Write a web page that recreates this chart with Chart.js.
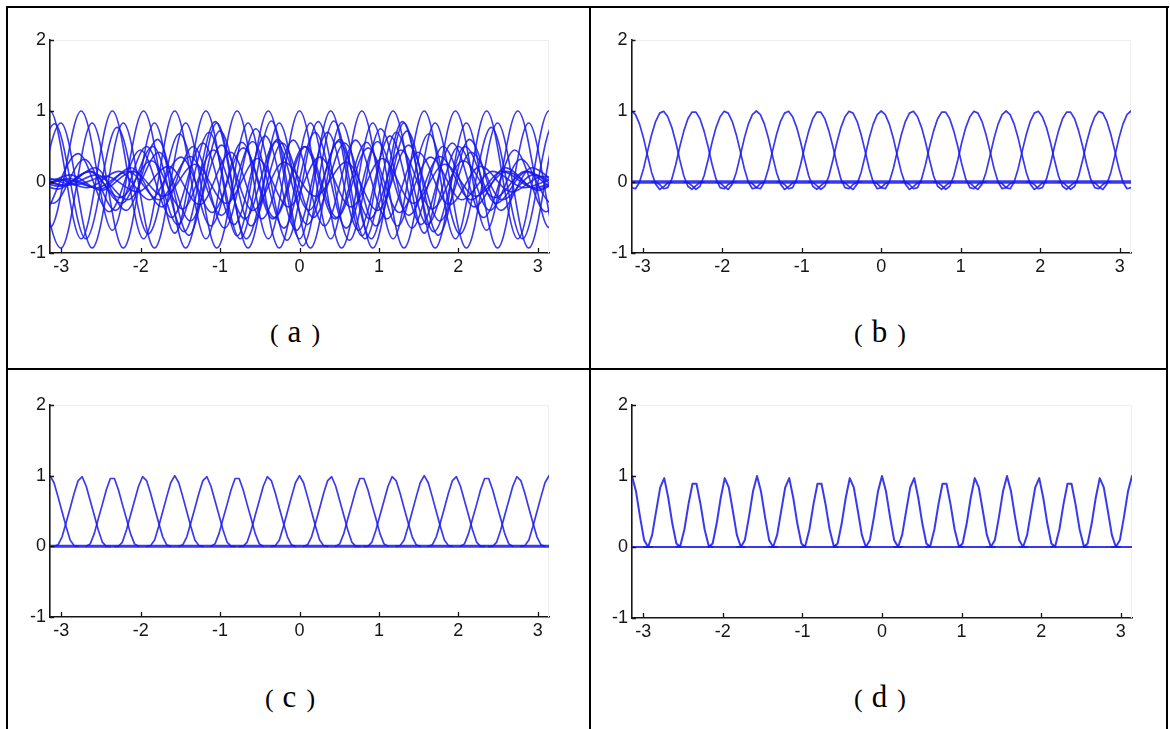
<!DOCTYPE html>
<html>
<head>
<meta charset="utf-8">
<script src="https://cdn.jsdelivr.net/npm/chart.js@4.4.1/dist/chart.umd.min.js"></script>
<style>
  html, body { margin: 0; padding: 0; background: #fff; }
  body { width: 1170px; height: 729px; position: relative; overflow: hidden; }
  .rule { position: absolute; background: #000; }
  canvas { position: absolute; }
  .cap { position: absolute; display: flex; align-items: baseline; line-height: 1;
         font-family: "Liberation Serif", "Times New Roman", serif; color: #000; white-space: nowrap;
         transform: translateX(-50%); }
  .cap .p { font-size: 26px; }
  .cap .l { font-size: 31px; margin: 0 10px 0 9px; }
</style>
</head>
<body>
  <!-- table grid -->
  <div class="rule" style="left:6px;top:6px;width:1163px;height:2px"></div>
  <div class="rule" style="left:6px;top:6px;width:2px;height:723px"></div>
  <div class="rule" style="left:1166px;top:6px;width:2px;height:723px"></div>
  <div class="rule" style="left:589px;top:6px;width:2px;height:723px"></div>
  <div class="rule" style="left:6px;top:368px;width:1162px;height:2px"></div>

  <canvas id="panelA" width="560" height="270" style="left:10px;top:20px"></canvas>
  <canvas id="panelB" width="560" height="270" style="left:592px;top:20px"></canvas>
  <canvas id="panelC" width="560" height="270" style="left:10px;top:385px"></canvas>
  <canvas id="panelD" width="560" height="270" style="left:592px;top:385px"></canvas>

  <div class="cap" style="left:295px;top:316px"><span class="p">(</span><span class="l">a</span><span class="p">)</span></div>
  <div class="cap" style="left:880px;top:316px"><span class="p">(</span><span class="l">b</span><span class="p">)</span></div>
  <div class="cap" style="left:290px;top:681px"><span class="p">(</span><span class="l">c</span><span class="p">)</span></div>
  <div class="cap" style="left:880px;top:681px"><span class="p">(</span><span class="l">d</span><span class="p">)</span></div>

<script>
// ---- axes ----
const xTickValues = [-3, -2, -1, 0, 1, 2, 3];
const yTickValues = [-1, 0, 1, 2];

// ---- sampling grid shared by panels (b)-(d) ----
const SAMPLES = 125;                 // points spread over [-pi, pi]
// kernel centres, in quarter-sample units (one every pi/8)
const bumpCentersQ = [0, 31, 62, 93, 124, 155, 186, 217, 248, 279, 310, 341, 372, 403, 434, 465, 496];

// kernel profiles, value at distance 0, 0.25, 0.5, ... samples from the centre
const kernelB = [1.0, 0.996, 0.985, 0.97, 0.95, 0.92, 0.89, 0.855, 0.815, 0.77, 0.72, 0.67, 0.615,
                 0.56, 0.50, 0.435, 0.37, 0.31, 0.25, 0.19, 0.135, 0.085, 0.04, 0.0, -0.03, -0.06,
                 -0.08, -0.095, -0.105, -0.105, -0.095, -0.08, -0.065, -0.05, -0.035, -0.022, -0.012,
                 -0.005, 0.0];
const kernelC = [1.0, 0.985, 0.96, 0.93, 0.90, 0.85, 0.80, 0.75, 0.70, 0.645, 0.59, 0.54, 0.49,
                 0.44, 0.39, 0.335, 0.28, 0.23, 0.18, 0.135, 0.09, 0.06, 0.035, 0.02, 0.01, 0.0];
const kernelD = [1.0, 0.97, 0.89, 0.84, 0.78, 0.69, 0.60, 0.51, 0.42, 0.33, 0.25, 0.17, 0.10,
                 0.05, 0.02, 0.0, 0.0];

// ---- panel (a): oscillating curves, one extreme value every pi/8
//      (the first and last value of each curve lie just outside the axis) ----
const waveShiftA = [0, 0, 0.35, 0.35, 0.5, 0.5, 0.2, 0.8, 0.65, 0.15, 0.3, 0.1, 0.6, 0.9, 0.45, 0.25];
const waveA1  = [-.8,1,-.8,1,-.8,1,-.8,1,-.8,1,-.8,1,-.8,1,-.8,1,-.8,1,-.8];
const waveA2  = [1,-.64,1,-.68,1,-.72,1,-.76,1,-.8,1,-.76,1,-.72,1,-.68,1,-.64,1];
const waveA3  = [.83,-.93,.83,-.93,.83,-.93,.83,-.93,.83,-.93,.83,-.93,.83,-.93,.83,-.93,.83,-.93,.83];
const waveA4  = [-.93,.83,-.93,.83,-.93,.83,-.93,.83,-.93,.83,-.93,.83,-.93,.83,-.93,.83,-.93,.83,-.93];
const waveA5  = [-.08,.03,-.08,.15,-.25,.36,-.47,.57,-.65,.7,-.65,.57,-.47,.36,-.25,.15,-.08,.03,-.08];
const waveA6  = [.1,-.05,.1,-.25,.42,-.55,.52,-.4,.28,-.2,.28,-.4,.52,-.55,.42,-.25,.1,-.05,.1];
const waveA7  = [-.08,.04,-.08,.15,-.25,.35,-.43,.48,-.5,.5,-.5,.48,-.43,.35,-.25,.15,-.08,.04,-.08];
const waveA8  = [.08,-.04,.08,-.14,.22,-.32,.42,-.52,.59,-.62,.59,-.52,.42,-.32,.22,-.14,.08,-.04,.08];
const waveA9  = [-.12,.1,-.12,.15,-.2,.25,-.3,.33,-.35,.35,-.35,.33,-.3,.25,-.2,.15,-.12,.1,-.12];
const waveA10 = [-.8,.82,-.8,.77,-.73,.68,-.62,.56,-.52,.5,-.52,.56,-.62,.68,-.73,.77,-.8,.82,-.8];
const waveA11 = [.1,-.06,.15,-.3,.5,-.7,.85,-.8,.6,-.4,.6,-.8,.85,-.7,.5,-.3,.15,-.06,.1];
const waveA12 = [.32,-.3,.32,-.4,.5,-.6,.7,-.8,.86,-.9,.86,-.8,.7,-.6,.5,-.4,.32,-.3,.32];
const waveA13 = [-.1,.05,-.1,.2,-.35,.5,-.65,.75,-.82,.85,-.82,.75,-.65,.5,-.35,.2,-.1,.05,-.1];
const waveA14 = [-.42,.4,-.42,.45,-.5,.55,-.6,.65,-.68,.7,-.68,.65,-.6,.55,-.5,.45,-.42,.4,-.42];
const waveA15 = [.1,-.05,.2,-.4,.6,-.75,.72,-.62,.55,-.5,.55,-.62,.72,-.75,.6,-.4,.2,-.05,.1];
const waveA16 = [.12,-.1,.15,-.22,.3,-.38,.45,-.52,.57,-.6,.57,-.52,.45,-.38,.3,-.22,.15,-.1,.12];
const wavesA = [waveA1, waveA2, waveA3, waveA4, waveA5, waveA6, waveA7, waveA8,
                waveA9, waveA10, waveA11, waveA12, waveA13, waveA14, waveA15, waveA16];

// ---- styling ----
const BLUE = 'rgba(24, 24, 236, 0.86)';
const AXIS = '#161616';
const FONT = '"Liberation Sans", Arial, Helvetica, sans-serif';
const PI = Math.PI;

function sampleX(i) { return -PI + i * 2 * PI / (SAMPLES - 1); }

// one shifted copy of a kernel, sampled on the shared grid
function bumpSeries(kernel, cq) {
  const pts = [];
  for (let i = 0; i < SAMPLES; i++) {
    const q = Math.abs(4 * i - cq);
    if (q < kernel.length + 4) pts.push({ x: sampleX(i), y: q < kernel.length ? kernel[q] : 0 });
  }
  return pts;
}

function kernelDatasets(kernel, lineWidth, baseWidth) {
  const sets = bumpCentersQ.map(cq => ({ data: bumpSeries(kernel, cq), borderWidth: lineWidth }));
  sets.unshift({ data: [{ x: -PI, y: 0 }, { x: PI, y: 0 }], borderWidth: baseWidth });
  return sets;
}

function waveDatasets() {
  return wavesA.map((vals, w) => ({
    data: vals.map((v, j) => ({ x: -PI + (j - 1 + waveShiftA[w]) * PI / 8, y: v })),
    cubicInterpolationMode: 'monotone',
    borderWidth: 1.6
  }));
}

// inward tick marks and the faint upper/right frame
const axisDecor = {
  id: 'axisDecor',
  beforeDatasetsDraw(chart) {
    const { ctx, chartArea: a } = chart;
    ctx.save();
    ctx.strokeStyle = '#ededed';
    ctx.lineWidth = 1;
    ctx.beginPath();
    ctx.moveTo(a.left, a.top + 0.5);
    ctx.lineTo(a.right - 0.5, a.top + 0.5);
    ctx.lineTo(a.right - 0.5, a.bottom);
    ctx.stroke();
    ctx.restore();
  },
  afterDraw(chart) {
    const { ctx, chartArea: a, scales: { x, y } } = chart;
    ctx.save();
    ctx.strokeStyle = AXIS;
    ctx.lineWidth = 1.3;
    ctx.beginPath();
    x.ticks.forEach(t => {
      const px = Math.round(x.getPixelForValue(t.value)) + 0.5;
      ctx.moveTo(px, a.bottom);
      ctx.lineTo(px, a.bottom - 5);
    });
    y.ticks.forEach(t => {
      const py = Math.round(y.getPixelForValue(t.value)) + 0.5;
      ctx.moveTo(a.left, py);
      ctx.lineTo(a.left + 4, py);
    });
    ctx.stroke();
    ctx.restore();
  }
};

function makePanel(id, area, datasets) {
  const cv = document.getElementById(id);
  const W = cv.width, H = cv.height;
  return new Chart(cv, {
    type: 'line',
    data: { datasets },
    options: {
      responsive: false,
      animation: false,
      devicePixelRatio: 1,
      events: [],
      layout: { padding: { left: 0, top: area.t, right: W - area.r, bottom: 0 } },
      plugins: { legend: { display: false }, tooltip: { enabled: false } },
      elements: {
        point: { radius: 0 },
        line: { borderColor: BLUE, borderWidth: 1.6, tension: 0, fill: false, borderCapStyle: 'round', borderJoinStyle: 'round' }
      },
      scales: {
        x: {
          type: 'linear', min: -PI, max: PI,
          afterBuildTicks: s => { s.ticks = xTickValues.map(v => ({ value: v })); },
          afterFit: s => { s.height = H - area.b; },
          grid: { display: false, drawTicks: false },
          border: { display: true, color: AXIS, width: 1.6 },
          ticks: { font: { family: FONT, size: 18 }, color: AXIS, padding: 3, maxRotation: 0, autoSkip: false,
                   callback: v => String(v) }
        },
        y: {
          type: 'linear', min: -1, max: 2,
          afterBuildTicks: s => { s.ticks = yTickValues.map(v => ({ value: v })); },
          afterFit: s => { s.width = area.l; },
          grid: { display: false, drawTicks: false },
          border: { display: true, color: AXIS, width: 1.6 },
          ticks: { font: { family: FONT, size: 18 }, color: AXIS, padding: 4, autoSkip: false,
                   callback: v => String(v) }
        }
      }
    },
    plugins: [axisDecor]
  });
}

makePanel('panelA', { l: 40, t: 20, r: 539, b: 233 }, waveDatasets());
makePanel('panelB', { l: 39.5, t: 20, r: 539, b: 233 }, kernelDatasets(kernelB, 1.7, 3.5));
makePanel('panelC', { l: 40, t: 20, r: 539, b: 232 }, kernelDatasets(kernelC, 1.7, 3));
makePanel('panelD', { l: 40, t: 20, r: 540, b: 233 }, kernelDatasets(kernelD, 2, 2));
</script>
</body>
</html>
